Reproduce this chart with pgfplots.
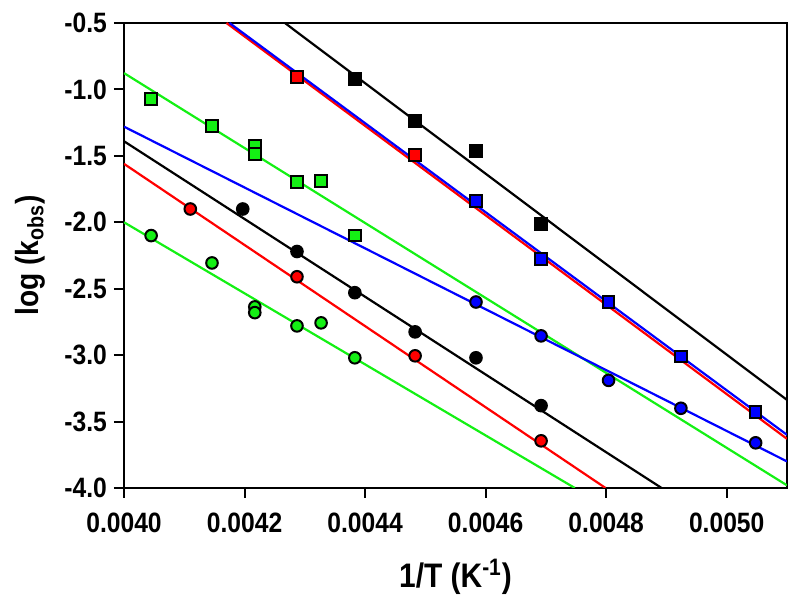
\documentclass[border=0pt]{standalone}
\usepackage{fontspec}
\setmainfont{Liberation Sans}[FakeStretch=0.88]
\usepackage{pgfplots}
\pgfplotsset{compat=1.18}
\definecolor{lgreen}{RGB}{20,240,20}
\definecolor{lred}{RGB}{255,0,0}
\definecolor{lblue}{RGB}{0,0,255}
\begin{document}
\begin{tikzpicture}
\begin{axis}[
  scale only axis,
  width=331.5pt, height=232.5pt,
  xmin=0.0040, xmax=0.0051, ymin=-4.0, ymax=-0.5,
  axis line style={line width=1.1pt},
  xtick={0.0040,0.0042,0.0044,0.0046,0.0048,0.0050},
  xticklabels={0.0040,0.0042,0.0044,0.0046,0.0048,0.0050},
  ytick={-4.0,-3.5,-3.0,-2.5,-2.0,-1.5,-1.0,-0.5},
  yticklabels={-4.0,-3.5,-3.0,-2.5,-2.0,-1.5,-1.0,-0.5},
  tick align=outside, tick pos=left,
  major tick length=5pt,
  tick style={line width=1pt, black},
  ticklabel style={font=\fontsize{14}{15}\selectfont\bfseries},
  xticklabel style={yshift=-4pt},
  scaled x ticks=false,
  xlabel={1/T (K\textsuperscript{-1})},
  ylabel={log (k\textsubscript{obs})},
  xlabel style={font=\fontsize{17}{19}\selectfont\bfseries, at={(rel axis cs:0.5,0)}, anchor=center, yshift=-44.5pt},
  ylabel style={font=\fontsize{16}{19}\selectfont\bfseries, at={(rel axis cs:0,0.5)}, anchor=center, yshift=47pt},
  every axis plot/.append style={line width=1.1pt},
]
% regression lines
\addplot[black, no markers] coordinates {(0.004267,-0.5) (0.0051,-3.337)};
\addplot[lred, no markers] coordinates {(0.004170,-0.5) (0.0051,-3.63)};
\addplot[lblue, no markers] coordinates {(0.004175,-0.5) (0.0051,-3.60)};
\addplot[lgreen, no markers] coordinates {(0.0040,-0.877) (0.0051,-3.98)};
\addplot[lblue, no markers] coordinates {(0.0040,-1.28) (0.0051,-3.80)};
\addplot[black, no markers] coordinates {(0.0040,-1.39) (0.004892,-4.0)};
\addplot[lred, no markers] coordinates {(0.0040,-1.56) (0.004799,-4.0)};
\addplot[lgreen, no markers] coordinates {(0.0040,-2.0) (0.004748,-4.0)};
% squares
\addplot[only marks, mark=square*, mark size=2.9pt, mark options={fill=lgreen, draw=black, line width=1pt}] coordinates {
(0.004045,-1.07) (0.004146,-1.275) (0.004217,-1.425) (0.004217,-1.486) (0.004287,-1.696) (0.004327,-1.689) (0.004383,-2.10)};
\addplot[only marks, mark=square*, mark size=2.9pt, mark options={fill=lred, draw=black, line width=1pt}] coordinates {
(0.004287,-0.906) (0.004483,-1.493)};
\addplot[only marks, mark=square*, mark size=2.9pt, mark options={fill=black, draw=black, line width=1pt}] coordinates {
(0.004383,-0.92) (0.004483,-1.237) (0.004584,-1.463) (0.004692,-2.012)};
\addplot[only marks, mark=square*, mark size=2.9pt, mark options={fill=lblue, draw=black, line width=1pt}] coordinates {
(0.004584,-1.84) (0.004692,-2.276) (0.004804,-2.60) (0.004924,-3.01) (0.005048,-3.43)};
% circles
\addplot[only marks, mark=*, mark size=2.9pt, mark options={fill=lred, draw=black, line width=1pt}] coordinates {
(0.00411,-1.90) (0.004287,-2.41) (0.004483,-3.005) (0.004692,-3.645)};
\addplot[only marks, mark=*, mark size=2.9pt, mark options={fill=black, draw=black, line width=1pt}] coordinates {
(0.004197,-1.90) (0.004287,-2.22) (0.004383,-2.53) (0.004483,-2.825) (0.004584,-3.02) (0.004692,-3.38)};
\addplot[only marks, mark=*, mark size=2.9pt, mark options={fill=lblue, draw=black, line width=1pt}] coordinates {
(0.004584,-2.60) (0.004692,-2.855) (0.004804,-3.19) (0.004924,-3.40) (0.005048,-3.66)};
\addplot[only marks, mark=*, mark size=2.9pt, mark options={fill=lgreen, draw=black, line width=1pt}] coordinates {
(0.004045,-2.10) (0.004146,-2.306) (0.004217,-2.637) (0.004217,-2.68) (0.004287,-2.78) (0.004327,-2.757) (0.004383,-3.02)};
\end{axis}
\pgfresetboundingbox
\path[use as bounding box] (-62pt,-55.5pt) rectangle (338pt,244pt);
\end{tikzpicture}
\end{document}
